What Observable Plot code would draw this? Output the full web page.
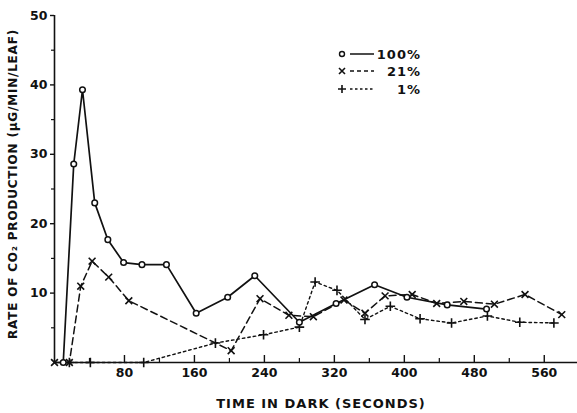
<!DOCTYPE html>
<html><head><meta charset="utf-8">
<script src="https://cdn.jsdelivr.net/npm/d3@7"></script>
<script src="https://cdn.jsdelivr.net/npm/@observablehq/plot@0.6"></script>
<style>body{margin:0;background:#fff} svg{display:block}</style>
</head><body><div id="chart"></div>
<script>
const seriesLabels = ["100%", "21%", "1%"];
const t100 = [10, 22, 32, 46, 61, 79, 100, 128, 162, 198, 229, 280, 322, 366, 403, 449, 494];
const v100 = [0, 28.6, 39.3, 23, 17.7, 14.4, 14.1, 14.1, 7.1, 9.4, 12.5, 5.8, 8.5, 11.2, 9.4, 8.3, 7.7];
const t21 = [0, 17, 30, 43, 62, 85, 202, 235, 268, 296, 331, 355, 378, 409, 437, 468, 503, 538, 580];
const v21 = [0, 0, 11, 14.6, 12.3, 8.9, 1.7, 9.2, 6.8, 6.6, 9.0, 7.1, 9.6, 9.8, 8.5, 8.8, 8.4, 9.8, 6.9];
const t1 = [17, 41, 102, 184, 239, 280, 298, 323, 355, 384, 418, 454, 495, 532, 571];
const v1 = [0, 0, 0, 2.8, 4.0, 5.1, 11.6, 10.4, 6.2, 8.1, 6.3, 5.7, 6.7, 5.8, 5.7];
const xMajor = [80, 160, 240, 320, 400, 480, 560];
const xMinor = [40, 120, 200, 280, 360, 440, 520];
const yMajor = [10, 20, 30, 40, 50];
const yMinor = [5, 15, 25, 35, 45];
const xTitle = "TIME IN DARK (SECONDS)";
const yTitle = "RATE OF CO₂ PRODUCTION (µG/MIN/LEAF)";

const d100 = t100.map((t, i) => ({t, v: v100[i]}));
const d21 = t21.map((t, i) => ({t, v: v21[i]}));
const d1 = t1.map((t, i) => ({t, v: v1[i]}));

const W = 577, H = 413, mT = 15, mB = 51, mL = 54, mR = 0;
const frameH = H - mT - mB;

const plot = Plot.plot({
  width: W, height: H,
  marginTop: mT, marginBottom: mB, marginLeft: mL, marginRight: mR,
  style: {fontFamily: "DejaVu Sans", fontSize: "12.5px", fontWeight: "bold", background: "#fff", color: "#111"},
  x: {domain: [0, 598]},
  y: {domain: [0, 50]},
  marks: [
    Plot.ruleX([0], {stroke: "#111", strokeWidth: 1.6}),
    Plot.ruleY([0], {stroke: "#111", strokeWidth: 1.6}),
    Plot.ruleX(xMajor, {stroke: "#111", strokeWidth: 1.4, insetTop: frameH - 7}),
    Plot.ruleX(xMinor, {stroke: "#111", strokeWidth: 1.2, insetTop: frameH - 4}),
    Plot.axisX({ticks: xMajor, tickSize: 0, tickPadding: 6, label: null}),
    Plot.axisY({ticks: yMajor, tickSize: 4, tickPadding: 3, label: null, strokeWidth: 1.4}),
    Plot.axisY({ticks: yMinor, tickSize: 3, tickFormat: () => "", label: null, strokeWidth: 1.2}),
    Plot.line(d1, {x: "t", y: "v", stroke: "#111", strokeWidth: 1.4, strokeDasharray: "2.5,3"}),
    Plot.line(d21, {x: "t", y: "v", stroke: "#111", strokeWidth: 1.5, strokeDasharray: "7,4"}),
    Plot.line(d100, {x: "t", y: "v", stroke: "#111", strokeWidth: 1.7}),
    Plot.dot(d1, {x: "t", y: "v", symbol: "plus", r: 3.2, stroke: "#111", strokeWidth: 1.6}),
    Plot.dot(d21, {x: "t", y: "v", symbol: "times", r: 3.2, stroke: "#111", strokeWidth: 1.6}),
    Plot.dot(d100, {x: "t", y: "v", symbol: "circle", r: 2.8, stroke: "#111", fill: "#fff", strokeWidth: 1.5})
  ]
});

const svg = d3.select(plot);
svg.append("text")
  .attr("x", 321).attr("y", 408)
  .attr("text-anchor", "middle")
  .attr("letter-spacing", "1px")
  .attr("font-size", "13px")
  .attr("fill", "#111")
  .text(xTitle);
svg.append("text")
  .attr("transform", "translate(17,184) rotate(-90)")
  .attr("text-anchor", "middle")
  .attr("letter-spacing", "0.8px")
  .attr("font-size", "12px")
  .attr("fill", "#111")
  .text(yTitle);

// legend
const lg = svg.append("g").attr("fill", "none").attr("stroke", "#111");
const rows = [54, 71, 89];
const dashes = [null, "4,3", "2.5,2.5"];
rows.forEach((y, i) => {
  lg.append("line").attr("x1", 350).attr("x2", 374).attr("y1", y).attr("y2", y)
    .attr("stroke-width", 1.5).attr("stroke-dasharray", dashes[i]);
  if (i === 0) lg.append("circle").attr("cx", 342).attr("cy", y).attr("r", 2.5).attr("stroke-width", 1.4).attr("fill", "#fff");
  else if (i === 1) lg.append("path").attr("d", `M${339},${y-3}L${345},${y+3}M${339},${y+3}L${345},${y-3}`).attr("stroke-width", 1.6);
  else lg.append("path").attr("d", `M${338},${y}L${346},${y}M${342},${y-4}L${342},${y+4}`).attr("stroke-width", 1.6);
  svg.append("text").attr("x", 421).attr("y", y).attr("dy", "0.36em")
    .attr("text-anchor", "end").attr("letter-spacing", "1px").attr("font-size", "13px").attr("fill", "#111")
    .text(seriesLabels[i]);
});

document.getElementById("chart").appendChild(plot);
</script>
</body></html>
